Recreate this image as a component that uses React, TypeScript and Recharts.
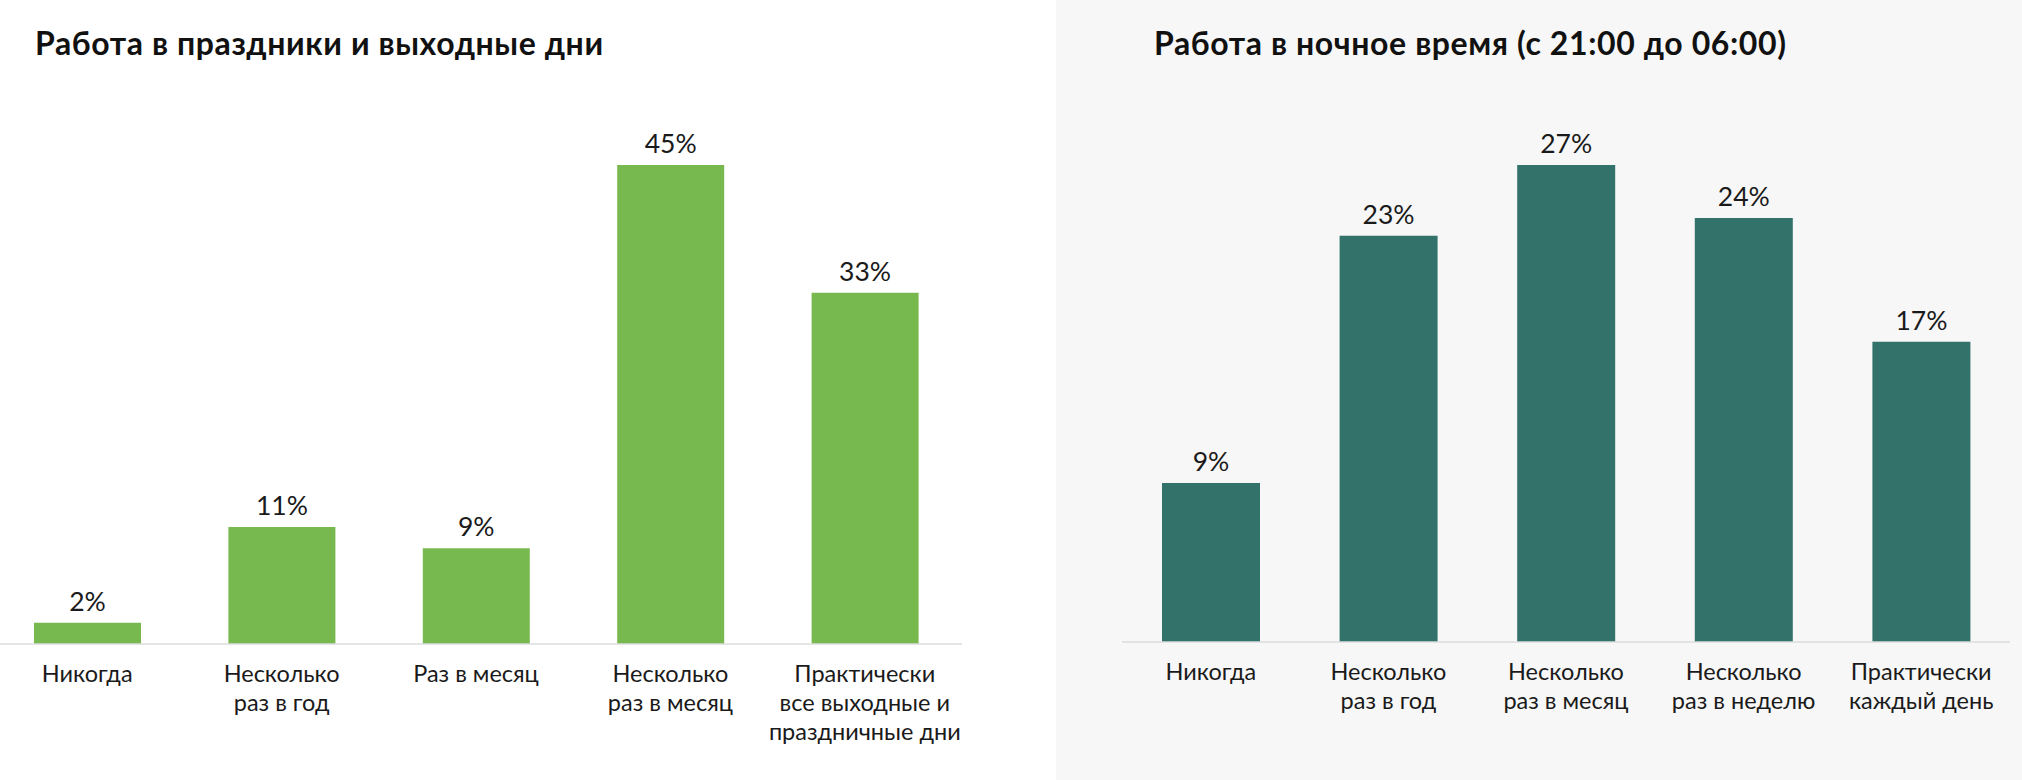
import React from "react";
import { BarChart, Bar, XAxis, YAxis, LabelList } from "recharts";

const holidayCategories = [
  "Никогда",
  "Несколько\nраз в год",
  "Раз в месяц",
  "Несколько\nраз в месяц",
  "Практически\nвсе выходные и\nпраздничные дни",
];
const holidayValues = [2, 11, 9, 45, 33];

const nightCategories = [
  "Никогда",
  "Несколько\nраз в год",
  "Несколько\nраз в месяц",
  "Несколько\nраз в неделю",
  "Практически\nкаждый день",
];
const nightValues = [9, 23, 27, 24, 17];

const FONT = "Lato, 'Open Sans', sans-serif";

const MultiTick = (props: any) => {
  const { x, y, payload } = props;
  const lines = String(payload.value).split("\n");
  return (
    <text x={x} y={y} textAnchor="middle" fill="#1a1a1a" fontSize={23.5} fontFamily={FONT}>
      {lines.map((l, i) => (
        <tspan key={i} x={x} dy={i === 0 ? 38 : 29}>
          {l}
        </tspan>
      ))}
    </text>
  );
};

const Chart = (props: {
  categories: string[];
  values: number[];
  color: string;
  max: number;
  width: number;
  barSize: number;
  axisHeight: number;
}) => {
  const data = props.categories.map((c, i) => ({ name: c, value: props.values[i] }));
  return (
    <BarChart
      width={props.width}
      height={780}
      data={data}
      margin={{ top: 165, right: 0, bottom: 0, left: 0 }}
    >
      <XAxis
        dataKey="name"
        interval={0}
        height={props.axisHeight}
        tickLine={false}
        tickSize={0}
        tickMargin={0}
        axisLine={{ stroke: "#dddddd", strokeWidth: 1.5 }}
        tick={<MultiTick />}
      />
      <YAxis hide domain={[0, props.max]} />
      <Bar dataKey="value" fill={props.color} barSize={props.barSize} isAnimationActive={false}>
        <LabelList
          dataKey="value"
          position="top"
          offset={12}
          formatter={(v: any) => `${v}%`}
          fill="#1a1a1a"
          fontSize={26.5}
          fontFamily={FONT}
        />
      </Bar>
    </BarChart>
  );
};

const titleStyle: React.CSSProperties = {
  position: "absolute",
  top: 23,
  fontFamily: FONT,
  fontWeight: 700,
  fontSize: 32,
  letterSpacing: 0.6,
  color: "#111",
  whiteSpace: "nowrap",
  lineHeight: "40px",
};

export default function App() {
  return (
    <div style={{ position: "absolute", left: 0, top: 0, width: 2022, height: 780, background: "#fff", overflow: "hidden" }}>
      <div style={{ position: "absolute", left: 1056, top: 0, width: 966, height: 780, background: "#f7f7f7" }} />
      <div style={{ ...titleStyle, left: 35 }}>Работа в праздники и выходные дни</div>
      <div style={{ ...titleStyle, left: 1154 }}>Работа в ночное время (с 21:00 до 06:00)</div>
      <div style={{ position: "absolute", left: -10, top: 0 }}>
        <Chart
          categories={holidayCategories}
          values={holidayValues}
          color="#78b94f"
          max={45}
          width={972}
          barSize={107}
          axisHeight={136}
        />
      </div>
      <div style={{ position: "absolute", left: 1122, top: 0 }}>
        <Chart
          categories={nightCategories}
          values={nightValues}
          color="#33726a"
          max={27}
          width={888}
          barSize={98}
          axisHeight={138}
        />
      </div>
    </div>
  );
}
